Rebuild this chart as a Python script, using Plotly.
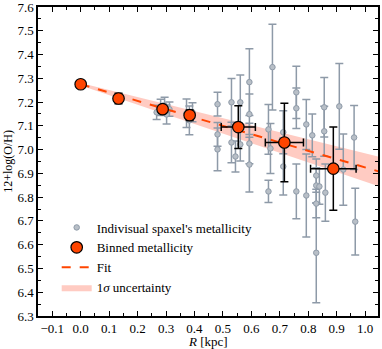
import plotly.graph_objects as go

# individual spaxels
spax_r = [0.267, 0.281, 0.295, 0.302, 0.312, 0.372, 0.382, 0.393,
          0.481, 0.481, 0.481, 0.530, 0.530, 0.544, 0.561, 0.561,
          0.593, 0.593, 0.593, 0.593, 0.660, 0.660, 0.674, 0.667,
          0.712, 0.712, 0.758, 0.758, 0.758, 0.793, 0.793, 0.814,
          0.828, 0.828, 0.828, 0.828, 0.839, 0.856, 0.856, 0.860,
          0.909, 0.923, 0.961, 0.965]
spax_oh = [7.157, 7.178, 7.186, 7.148, 7.170, 7.153, 7.123, 7.157,
           7.191, 7.064, 7.001, 7.199, 7.030, 6.971, 7.199, 7.022,
           7.284, 7.149, 7.026, 6.937, 7.085, 6.824, 7.347, 7.005,
           7.073, 6.929, 7.241, 7.174, 6.824, 7.106, 6.807, 7.060,
           6.891, 6.849, 6.773, 6.566, 6.845, 7.178, 7.077, 6.819,
           7.182, 6.916, 7.051, 6.697]
spax_err = [0.03, 0.034, 0.034, 0.04, 0.03, 0.06, 0.06, 0.04,
            0.05, 0.05, 0.09, 0.10, 0.085, 0.065, 0.115, 0.07,
            0.14, 0.085, 0.085, 0.115, 0.105, 0.047, 0.18, 0.105,
            0.09, 0.12, 0.11, 0.085, 0.115, 0.105, 0.175, 0.09,
            0.07, 0.075, 0.06, 0.21, 0.075, 0.125, 0.105, 0.12,
            0.18, 0.15, 0.135, 0.14]

# binned
bin_r = [0.0, 0.133, 0.288, 0.383, 0.554, 0.716, 0.888]
bin_oh = [7.275, 7.215, 7.170, 7.145, 7.095, 7.030, 6.920]
bin_yerr = [0.005, 0.022, 0.015, 0.022, 0.09, 0.165, 0.175]
bin_xerr = [0.0, 0.0, 0.01, 0.0, 0.06, 0.067, 0.08]

# fit and 1 sigma band
fit_r = [0.0, 1.05]
fit_oh = [7.275, 6.9075]
band_lo = [7.27, 6.845]
band_hi = [7.28, 6.97]

# axis ticks
x_ticks = [-0.1, 0.0, 0.1, 0.2, 0.3, 0.4, 0.5, 0.6, 0.7, 0.8, 0.9, 1.0]
y_ticks = [6.3, 6.4, 6.5, 6.6, 6.7, 6.8, 6.9, 7.0, 7.1, 7.2, 7.3, 7.4, 7.5, 7.6]

font = "Liberation Serif"
gray = "#8e9aa8"
orange = "#ff4500"

fig = go.Figure()

fig.add_trace(go.Scatter(
    x=fit_r + fit_r[::-1],
    y=band_hi + band_lo[::-1],
    fill="toself", fillcolor="rgba(255,140,120,0.45)",
    line=dict(width=0), mode="lines", name="1<i>σ</i> uncertainty",
    legendrank=4,
))

fig.add_trace(go.Scatter(
    x=spax_r, y=spax_oh, mode="markers", name="Indivisual spaxel's metallicity",
    marker=dict(size=5.5, color="#b8bfc7", line=dict(color=gray, width=1)),
    error_y=dict(type="data", array=spax_err, color=gray, thickness=1.5, width=4),
    legendrank=1,
))

fig.add_trace(go.Scatter(
    x=fit_r, y=fit_oh, mode="lines", name="Fit",
    line=dict(color=orange, width=2, dash="dash"),
    legendrank=3,
))

fig.add_trace(go.Scatter(
    x=bin_r, y=bin_oh, mode="markers", name="Binned metallicity",
    marker=dict(size=11.5, color=orange, line=dict(color="black", width=1.2)),
    error_y=dict(type="data", array=bin_yerr, color="black", thickness=1.5, width=4),
    error_x=dict(type="data", array=bin_xerr, color="black", thickness=1.5, width=4),
    legendrank=2,
))

axis = dict(
    showline=True, linecolor="black", linewidth=1.5, mirror="ticks",
    ticks="inside", ticklen=5, tickwidth=1.2, tickcolor="black",
    showgrid=False, zeroline=False, automargin=False,
    ticklabeloverflow="allow",
    tickfont=dict(family=font, size=13, color="black"),
)

fig.update_xaxes(
    **axis, range=[-0.15, 1.045], tickvals=x_ticks, tickformat=".1f",
    minor=dict(ticks="inside", ticklen=3, dtick=0.05, tick0=0, tickcolor="black"),
)
fig.update_yaxes(
    **axis, range=[6.3, 7.6], tickvals=y_ticks, tickformat=".1f",
    minor=dict(ticks="inside", ticklen=3, dtick=0.05, tick0=6.3, tickcolor="black"),
    title=dict(text="12+log(O/H)", font=dict(family=font, size=12, color="black"), standoff=2),
)

# x title placed by hand (standoff is ignored without automargin)
fig.add_annotation(
    text="<i>R</i> [kpc]", xref="paper", yref="paper", x=0.5, y=-0.082,
    xanchor="center", yanchor="middle", showarrow=False,
    font=dict(family=font, size=13, color="black"),
)

fig.update_layout(
    width=382, height=349,
    margin=dict(l=38, r=4, t=7, b=33),
    plot_bgcolor="white", paper_bgcolor="white",
    font=dict(family=font, size=13, color="black"),
    legend=dict(x=0.055, y=0.335, xanchor="left", yanchor="top",
                bgcolor="rgba(0,0,0,0)", font=dict(family=font, size=13),
                tracegroupgap=0),
)

# page body has a default margin; drop it so the figure sits at the corner
fig.write_html("out.html", config={"displayModeBar": False},
               post_script="document.body.style.margin='0';")
